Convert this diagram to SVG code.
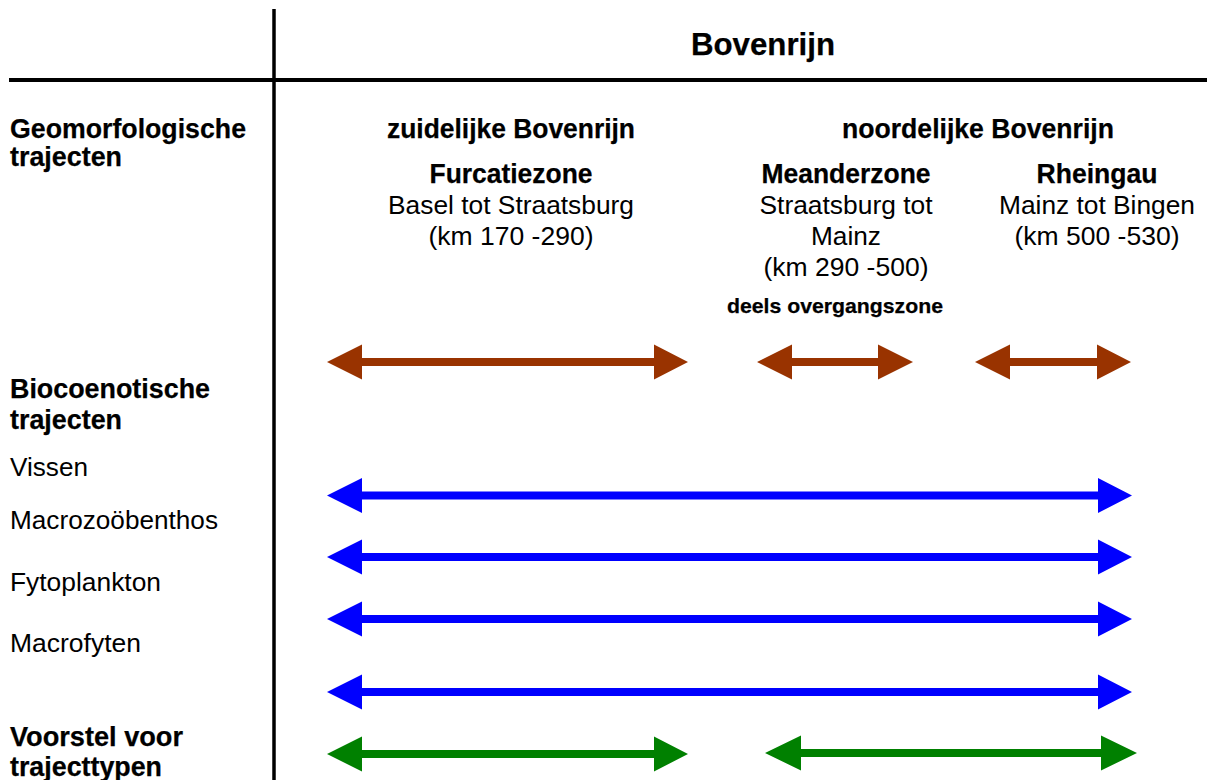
<svg xmlns="http://www.w3.org/2000/svg" width="1207" height="780" viewBox="0 0 1207 780">
<style>
text{font-family:"Liberation Sans",Arial,sans-serif;fill:#000}
.b{font-weight:bold;font-size:27px;stroke:#000;stroke-width:0.25px}
.n{font-size:26.5px}
.c{text-anchor:middle}
.grid{stroke:#000;stroke-width:4;fill:none}
.brown{fill:#993300}
.blue{fill:#0000ff}
.green{fill:#008000}
</style>
<rect width="1207" height="780" fill="#fff"/>
<g id="grid" class="grid">
<line x1="274" y1="9" x2="274" y2="780" style="stroke-width:3.5"/>
<line x1="9" y1="80" x2="1207" y2="80"/>
</g>
<g id="title"><text class="b c" x="763" y="55" style="font-size:31px" textLength="144" lengthAdjust="spacingAndGlyphs">Bovenrijn</text></g>
<g id="geomorf-label"><text class="b" x="10" y="138" textLength="236" lengthAdjust="spacingAndGlyphs">Geomorfologische</text><text class="b" x="10" y="166" textLength="112" lengthAdjust="spacingAndGlyphs">trajecten</text></g>
<g id="zuidelijk"><text class="b c" x="511" y="138" textLength="248" lengthAdjust="spacingAndGlyphs">zuidelijke Bovenrijn</text></g>
<g id="noordelijk"><text class="b c" x="978" y="138" textLength="272" lengthAdjust="spacingAndGlyphs">noordelijke Bovenrijn</text></g>
<g id="furcatiezone"><text class="b c" x="511" y="183" textLength="163" lengthAdjust="spacingAndGlyphs">Furcatiezone</text><text class="n c" x="511" y="214" textLength="246" lengthAdjust="spacingAndGlyphs">Basel tot Straatsburg</text><text class="n c" x="511" y="245" textLength="165" lengthAdjust="spacingAndGlyphs">(km 170 -290)</text></g>
<g id="meanderzone"><text class="b c" x="846" y="183" textLength="169" lengthAdjust="spacingAndGlyphs">Meanderzone</text><text class="n c" x="846" y="214" textLength="173" lengthAdjust="spacingAndGlyphs">Straatsburg tot</text><text class="n c" x="846" y="245" textLength="70" lengthAdjust="spacingAndGlyphs">Mainz</text><text class="n c" x="846" y="276" textLength="165" lengthAdjust="spacingAndGlyphs">(km 290 -500)</text></g>
<g id="overgang"><text class="b c" x="835" y="313" style="font-size:21px" textLength="216" lengthAdjust="spacingAndGlyphs">deels overgangszone</text></g>
<g id="rheingau"><text class="b c" x="1097" y="183" textLength="121" lengthAdjust="spacingAndGlyphs">Rheingau</text><text class="n c" x="1097" y="214" textLength="196" lengthAdjust="spacingAndGlyphs">Mainz tot Bingen</text><text class="n c" x="1097" y="245" textLength="165" lengthAdjust="spacingAndGlyphs">(km 500 -530)</text></g>
<g id="bio-label"><text class="b" x="10" y="398" textLength="200" lengthAdjust="spacingAndGlyphs">Biocoenotische</text><text class="b" x="10" y="429" textLength="112" lengthAdjust="spacingAndGlyphs">trajecten</text></g>
<g id="vissen"><text class="n" x="10" y="476" textLength="78" lengthAdjust="spacingAndGlyphs">Vissen</text></g>
<g id="macrozoobenthos"><text class="n" x="10" y="529" textLength="208" lengthAdjust="spacingAndGlyphs">Macrozoöbenthos</text></g>
<g id="fytoplankton"><text class="n" x="10" y="591" textLength="151" lengthAdjust="spacingAndGlyphs">Fytoplankton</text></g>
<g id="macrofyten"><text class="n" x="10" y="652" textLength="131" lengthAdjust="spacingAndGlyphs">Macrofyten</text></g>
<g id="voorstel-label"><text class="b" x="10" y="746" textLength="173" lengthAdjust="spacingAndGlyphs">Voorstel voor</text><text class="b" x="10" y="776" textLength="152" lengthAdjust="spacingAndGlyphs">trajecttypen</text></g>
<g id="connectors">
<polygon class="brown" points="327,362 362,344.5 362,358 654,358 654,344.5 688,362 654,379.5 654,366 362,366 362,379.5"/>
<polygon class="brown" points="757,362 792,344.5 792,358 878,358 878,344.5 913,362 878,379.5 878,366 792,366 792,379.5"/>
<polygon class="brown" points="975,362 1010,344.5 1010,358 1097,358 1097,344.5 1131,362 1097,379.5 1097,366 1010,366 1010,379.5"/>
<polygon class="blue" points="327,495.5 362,478 362,491.5 1098,491.5 1098,478 1132,495.5 1098,513 1098,499.5 362,499.5 362,513"/>
<polygon class="blue" points="327,557 362,539.5 362,553 1098,553 1098,539.5 1132,557 1098,574.5 1098,561 362,561 362,574.5"/>
<polygon class="blue" points="327,619 362,601.5 362,615 1098,615 1098,601.5 1132,619 1098,636.5 1098,623 362,623 362,636.5"/>
<polygon class="blue" points="327,692 362,674.5 362,688 1098,688 1098,674.5 1132,692 1098,709.5 1098,696 362,696 362,709.5"/>
<polygon class="green" points="327,754 362,736.5 362,750 654,750 654,736.5 688,754 654,771.5 654,758 362,758 362,771.5"/>
<polygon class="green" points="765,753 801,735.5 801,749 1101,749 1101,735.5 1137,753 1101,770.5 1101,757 801,757 801,770.5"/>
</g>
</svg>
